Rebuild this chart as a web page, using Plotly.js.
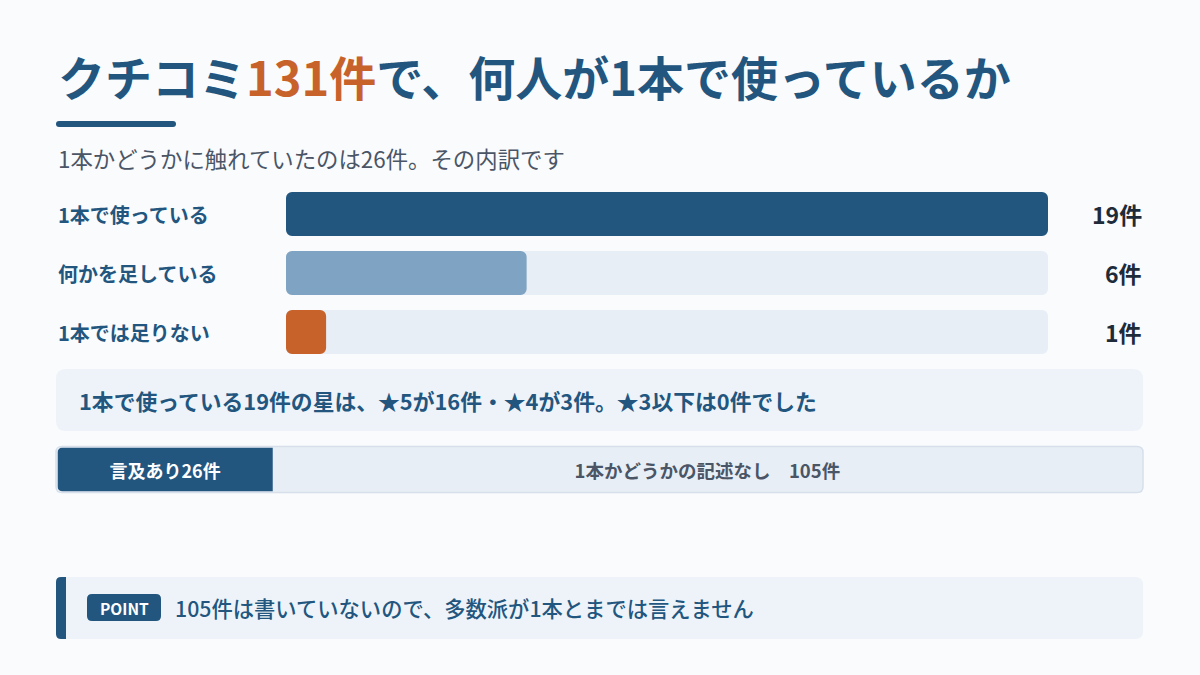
<!DOCTYPE html>
<html>
<head>
<meta charset="utf-8">
<script src="https://cdn.plot.ly/plotly-3.0.1.min.js"></script>
<style>html,body{margin:0;padding:0;background:#F9FBFD;}#chart{width:1200px;height:675px;}</style>
</head>
<body>
<div id="chart"></div>
<script>
// ---- data ----
const totalReviews = 131;
const mentioned = 26;
const notMentioned = 105;
const categories = ["1本で使っている", "何かを足している", "1本では足りない"];
const counts = [19, 6, 1];
const starSummary = "1本で使っている19件の星は、★5が16件・★4が3件。★3以下は0件でした";
const pointText = "105件は書いていないので、多数派が1本とまでは言えません";

// ---- styles ----
const W = 1200, H = 675;
const FONT = '"Noto Sans CJK JP", "Noto Sans", sans-serif';
const DARK = '#22567F', MID = '#7FA3C2', ORANGE = '#C8622B', TRACK = '#E8EEF5', BOX = '#EEF3F9';
const barColors = [DARK, MID, ORANGE];
const px = x => x / W;
const py = y => 1 - y / H;

function roundRect(x0, y0, x1, y1, r, fill, line, lw, rl = true, rr = true) {
  const rx = r / W, ry = r / H;
  const X0 = px(x0), X1 = px(x1), Yt = py(y0), Yb = py(y1);
  let d = '';
  d += rl ? `M${X0},${Yt - ry} Q${X0},${Yt} ${X0 + rx},${Yt}` : `M${X0},${Yt}`;
  d += rr ? ` L${X1 - rx},${Yt} Q${X1},${Yt} ${X1},${Yt - ry} L${X1},${Yb + ry} Q${X1},${Yb} ${X1 - rx},${Yb}`
          : ` L${X1},${Yt} L${X1},${Yb}`;
  d += rl ? ` L${X0 + rx},${Yb} Q${X0},${Yb} ${X0},${Yb + ry} Z` : ` L${X0},${Yb} Z`;
  return {type: 'path', xref: 'paper', yref: 'paper', path: d, fillcolor: fill,
          line: {color: line || 'rgba(0,0,0,0)', width: lw || 0}, layer: 'below'};
}

const maxCount = Math.max(...counts);
const traces = [
  {type: 'bar', orientation: 'h', y: categories, x: categories.map(() => maxCount), base: categories.map(() => 0),
   marker: {color: TRACK, cornerradius: 6}, width: 0.746, xaxis: 'x', yaxis: 'y', hoverinfo: 'skip'},
  {type: 'bar', orientation: 'h', y: categories, x: counts, base: counts.map(() => 0),
   marker: {color: barColors, cornerradius: 6}, width: 0.746, xaxis: 'x', yaxis: 'y', hoverinfo: 'skip'},
  {type: 'bar', orientation: 'h', y: ['all'], x: [mentioned + notMentioned], width: 1,
   marker: {color: TRACK, cornerradius: 6}, xaxis: 'x2', yaxis: 'y2', hoverinfo: 'skip'},
  // "mentioned" segment drawn on a reversed axis whose zero sits at the segment boundary,
  // so only its outer (left) end is rounded
  {type: 'bar', orientation: 'h', y: ['all'], x: [mentioned], width: 1,
   marker: {color: DARK, cornerradius: 5}, xaxis: 'x3', yaxis: 'y2',
   text: [`言及あり${mentioned}件`], textposition: 'inside', insidetextanchor: 'middle', textangle: 0,
   constraintext: 'none',
   textfont: {family: FONT, size: 18, color: '#FFFFFF', weight: 700}, hoverinfo: 'skip'},
  {type: 'bar', orientation: 'h', y: ['all'], x: [notMentioned], base: [mentioned], width: 1,
   marker: {color: 'rgba(0,0,0,0)'}, xaxis: 'x2', yaxis: 'y2',
   text: [`1本かどうかの記述なし　${notMentioned}件`], textposition: 'inside', insidetextanchor: 'middle', textangle: 0,
   constraintext: 'none',
   textfont: {family: FONT, size: 18.5, color: '#4A5566', weight: 700}, hoverinfo: 'skip'}
];

const annotations = [
  {xref: 'paper', yref: 'paper', x: px(56), y: py(75), xanchor: 'left', yanchor: 'middle', showarrow: false,
   text: `クチコミ<span style="color:${ORANGE}">${totalReviews}件</span>で、何人が1本で使っているか`,
   font: {family: FONT, size: 47, color: DARK, weight: 700}},
  {xref: 'paper', yref: 'paper', x: px(56), y: py(158), xanchor: 'left', yanchor: 'middle', showarrow: false,
   text: `1本かどうかに触れていたのは${mentioned}件。その内訳です`,
   font: {family: FONT, size: 22.4, color: '#4A5566'}},
  {xref: 'paper', yref: 'paper', x: px(77), y: py(400), xanchor: 'left', yanchor: 'middle', showarrow: false,
   text: starSummary, font: {family: FONT, size: 21.8, color: DARK, weight: 700}},
  {xref: 'paper', yref: 'paper', x: px(124), y: py(608), xanchor: 'center', yanchor: 'middle', showarrow: false,
   text: 'POINT', font: {family: FONT, size: 15.5, color: '#FFFFFF', weight: 700}},
  {xref: 'paper', yref: 'paper', x: px(173), y: py(607), xanchor: 'left', yanchor: 'middle', showarrow: false,
   text: pointText, font: {family: FONT, size: 21.3, color: DARK, weight: 500}}
];
categories.forEach((c, i) => {
  annotations.push({xref: 'paper', yref: 'y', x: px(56), y: c, xanchor: 'left', yanchor: 'middle', showarrow: false,
    text: c, font: {family: FONT, size: 20, color: DARK, weight: 700}});
  annotations.push({xref: 'paper', yref: 'y', x: px(1144), y: c, xanchor: 'right', yanchor: 'middle', showarrow: false,
    text: `${counts[i]}件`, font: {family: FONT, size: 23, color: '#1E2B3A', weight: 700}});
});

const shapes = [
  roundRect(56, 121, 176, 127, 3, DARK),
  roundRect(56, 369, 1143, 431, 10, BOX),
  roundRect(56, 446.5, 1143, 492.5, 6, TRACK, '#D6DFEA', 1.5),
  roundRect(56, 577, 1143, 639, 8, BOX),
  roundRect(56, 577, 66, 639, 5, DARK, null, 0, true, false),
  roundRect(87, 594, 161, 621, 5, DARK)
];

const stackDomain = [px(57.5), px(1142)];
const layout = {
  width: W, height: H, margin: {l: 0, r: 0, t: 0, b: 0},
  paper_bgcolor: '#F9FBFD', plot_bgcolor: 'rgba(0,0,0,0)',
  barmode: 'overlay', showlegend: false, hovermode: false,
  font: {family: FONT},
  xaxis: {domain: [px(286), px(1048)], range: [0, maxCount], visible: false, fixedrange: true},
  yaxis: {domain: [py(361.5), py(184.5)], type: 'category', categoryarray: categories, range: [2.5, -0.5],
          visible: false, fixedrange: true},
  xaxis2: {domain: stackDomain, range: [0, totalReviews], visible: false, anchor: 'y2', fixedrange: true},
  xaxis3: {domain: stackDomain, range: [mentioned, mentioned - totalReviews], visible: false, anchor: 'y2',
           overlaying: 'x2', fixedrange: true},
  yaxis2: {domain: [py(491.5), py(447.5)], range: [-0.5, 0.5], visible: false, anchor: 'x2', fixedrange: true},
  shapes: shapes,
  annotations: annotations
};

Plotly.newPlot('chart', traces, layout, {displayModeBar: false, staticPlot: true});
</script>
</body>
</html>
